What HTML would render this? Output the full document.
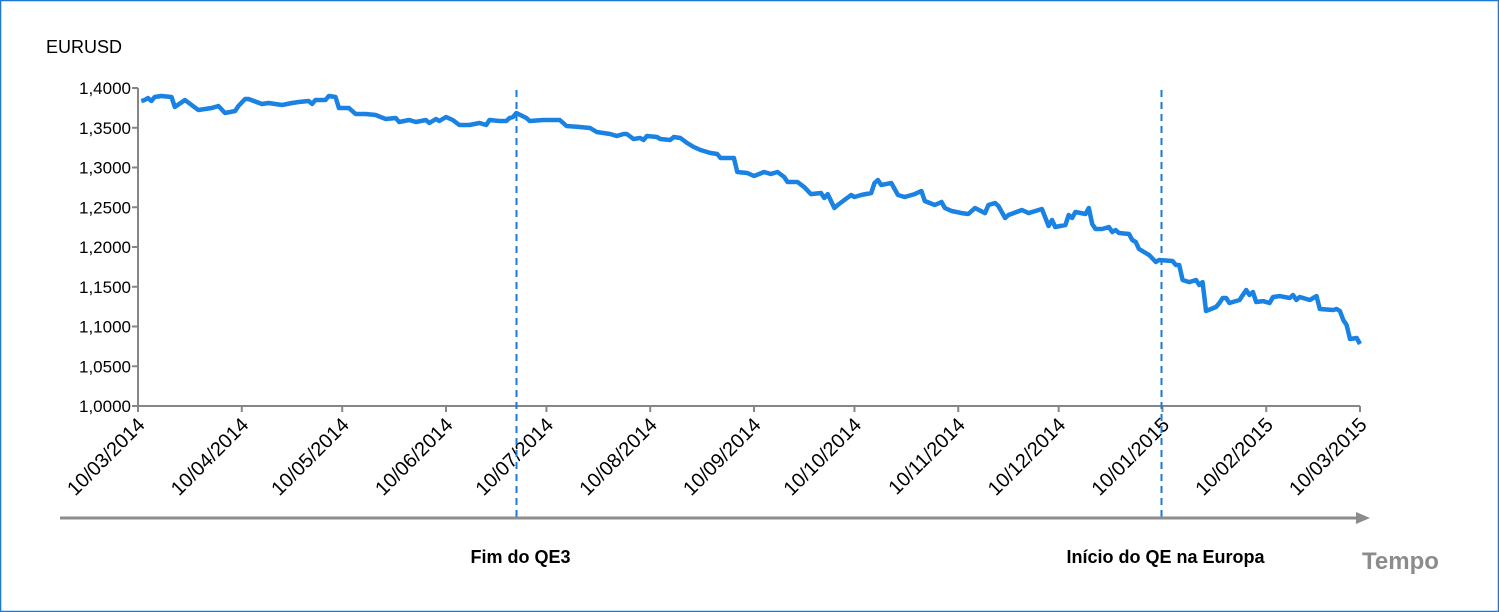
<!DOCTYPE html>
<html><head><meta charset="utf-8"><style>
html,body{margin:0;padding:0;background:#fff}
svg{display:block;font-family:"Liberation Sans",sans-serif}
</style></head><body>
<svg id="chart" width="1499" height="612" viewBox="0 0 1499 612" xmlns="http://www.w3.org/2000/svg">
<rect x="0.5" y="0.5" width="1498" height="611" fill="#fff" stroke="#1f77d4" stroke-width="1.5"/>
<text x="46" y="53" font-size="18" fill="#000">EURUSD</text>
<g id="yaxis"></g>
<g id="xaxis"></g>
<g id="events"></g>
<path id="line" fill="none" stroke="#1a82e2" stroke-width="4.5" stroke-linejoin="round"/>
<line x1="60" y1="518" x2="1358" y2="518" stroke="#8c8c8c" stroke-width="3"/>
<polygon points="1356,512 1370,518 1356,524" fill="#8c8c8c"/>
<text x="1362" y="569" font-size="24" font-weight="bold" fill="#8c8c8c">Tempo</text>
</svg>
<script>
const yTicks=[1.0,1.05,1.1,1.15,1.2,1.25,1.3,1.35,1.4];
const monthDays=[0,31,61,92,122,153,184,214,245,275,306,337,365];
const monthLabels=["10/03/2014","10/04/2014","10/05/2014","10/06/2014","10/07/2014","10/08/2014","10/09/2014","10/10/2014","10/11/2014","10/12/2014","10/01/2015","10/02/2015","10/03/2015"];
const eventDays=[113,305.5];
const eventLabels=["Fim do QE3","Início do QE na Europa"];
const days=[1,2,3,4,5,7,10,11,14,18,22,24,26,29,30,32,33,37,39,43,46,48,51,52,53,56,57,59,60,63,65,68,71,74,77,78,81,83,86,87,89,90,92,94,96,99,102,104,105,108,110,111,112,113,116,117,121,123,126,128,132,135,137,139,141,143,145,146,148,150,151,152,155,156,159,160,162,164,166,168,171,173,174,178,179,182,184,187,189,191,193,194,197,199,201,204,205,206,208,209,211,213,214,216,219,220,221,222,225,227,229,232,234,235,238,240,241,243,246,248,250,253,254,256,257,259,260,264,266,269,270,272,273,274,277,278,279,280,283,284,285,286,288,290,291,292,293,296,297,298,299,301,302,304,305,309,310,311,312,314,316,317,318,319,322,323,324,325,326,329,330,331,332,333,334,336,338,339,341,344,345,346,347,350,352,353,357,358,359,360,361,362,364,365];
const rates=[1.3836,1.3849,1.3874,1.3836,1.3887,1.3899,1.3887,1.3761,1.3849,1.3723,1.3748,1.3774,1.3686,1.3711,1.3774,1.3862,1.3862,1.3799,1.3811,1.3786,1.3811,1.3824,1.3836,1.3799,1.3849,1.3849,1.3899,1.3887,1.3748,1.3748,1.3673,1.3673,1.3660,1.3610,1.3623,1.3572,1.3597,1.3572,1.3597,1.3560,1.3610,1.3585,1.3635,1.3597,1.3535,1.3535,1.3560,1.3535,1.3597,1.3585,1.3585,1.3623,1.3635,1.3686,1.3623,1.3585,1.3597,1.3597,1.3597,1.3522,1.3509,1.3497,1.3446,1.3434,1.3421,1.3396,1.3421,1.3421,1.3358,1.3371,1.3346,1.3396,1.3384,1.3358,1.3346,1.3384,1.3371,1.3308,1.3258,1.3220,1.3182,1.3170,1.3119,1.3119,1.2943,1.2931,1.2893,1.2943,1.2918,1.2943,1.2880,1.2817,1.2817,1.2754,1.2666,1.2679,1.2616,1.2666,1.2490,1.2528,1.2591,1.2654,1.2629,1.2654,1.2679,1.2805,1.2843,1.2780,1.2805,1.2654,1.2629,1.2666,1.2704,1.2578,1.2528,1.2566,1.2490,1.2453,1.2427,1.2415,1.2490,1.2427,1.2528,1.2553,1.2516,1.2365,1.2402,1.2465,1.2427,1.2465,1.2478,1.2264,1.2339,1.2251,1.2277,1.2402,1.2365,1.2440,1.2415,1.2490,1.2289,1.2226,1.2226,1.2251,1.2189,1.2214,1.2176,1.2163,1.2088,1.2063,1.1975,1.1924,1.1899,1.1811,1.1836,1.1824,1.1773,1.1773,1.1585,1.1559,1.1585,1.1522,1.1559,1.1195,1.1245,1.1295,1.1358,1.1358,1.1295,1.1333,1.1396,1.1459,1.1396,1.1434,1.1308,1.1320,1.1295,1.1371,1.1383,1.1358,1.1396,1.1333,1.1371,1.1333,1.1383,1.1220,1.1207,1.1220,1.1195,1.1082,1.1019,1.0843,1.0855,1.0780];

const NS="http://www.w3.org/2000/svg";
const X0=138,X1=1360,Y0=406,Y1=88;
function xs(d){return X0+(d-monthDays[0])*(X1-X0)/(monthDays[monthDays.length-1]-monthDays[0]);}
function ys(v){return Y0-(v-yTicks[0])*(Y0-Y1)/(yTicks[yTicks.length-1]-yTicks[0]);}
function mk(tag,attrs,parent){const e=document.createElementNS(NS,tag);for(const k in attrs)e.setAttribute(k,attrs[k]);parent.appendChild(e);return e;}
const ya=document.getElementById('yaxis'),xa=document.getElementById('xaxis'),ev=document.getElementById('events');
let l=mk('line',{x1:X0,y1:Y1,x2:X0,y2:Y0,stroke:'#868686','stroke-width':2},ya);


yTicks.forEach(v=>{
  const y=ys(v);
  const t=mk('line',{x1:X0-6,y1:y,x2:X0,y2:y,stroke:'#868686','stroke-width':2},ya);
  
  
  const tx=mk('text',{x:X0-7,y:y+6,'text-anchor':'end','font-size':17,fill:'#000'},ya);
  tx.textContent=v.toFixed(4).replace('.',',');
  
  
});
l=mk('line',{x1:X0,y1:Y0,x2:X1,y2:Y0,stroke:'#868686','stroke-width':2},xa);


monthDays.forEach((d,i)=>{
  const x=xs(d);
  const t=mk('line',{x1:x,y1:Y0,x2:x,y2:Y0+6,stroke:'#868686','stroke-width':2},xa);
  
  
  const tx=mk('text',{x:x+8,y:Y0+20,'text-anchor':'end','font-size':20,fill:'#000',transform:`rotate(-45 ${x+8} ${Y0+20})`},xa);
  tx.textContent=monthLabels[i];
  
  
});
eventDays.forEach((d,i)=>{
  const x=Math.round(xs(d))+0.5;
  const dl=mk('line',{x1:x,y1:90,x2:x,y2:522,stroke:'#1a7ad4','stroke-width':2,'stroke-dasharray':'7,5'},ev);
  
  
  const tx=mk('text',{x:x+4,y:563,'text-anchor':'middle','font-size':18,'font-weight':'bold',fill:'#000'},ev);
  tx.textContent=eventLabels[i];
  
  
});
document.getElementById('line').setAttribute('d',days.map((d,i)=>(i?'L':'M')+xs(d).toFixed(1)+','+ys(rates[i]).toFixed(1)).join(''));
</script>
</body></html>
